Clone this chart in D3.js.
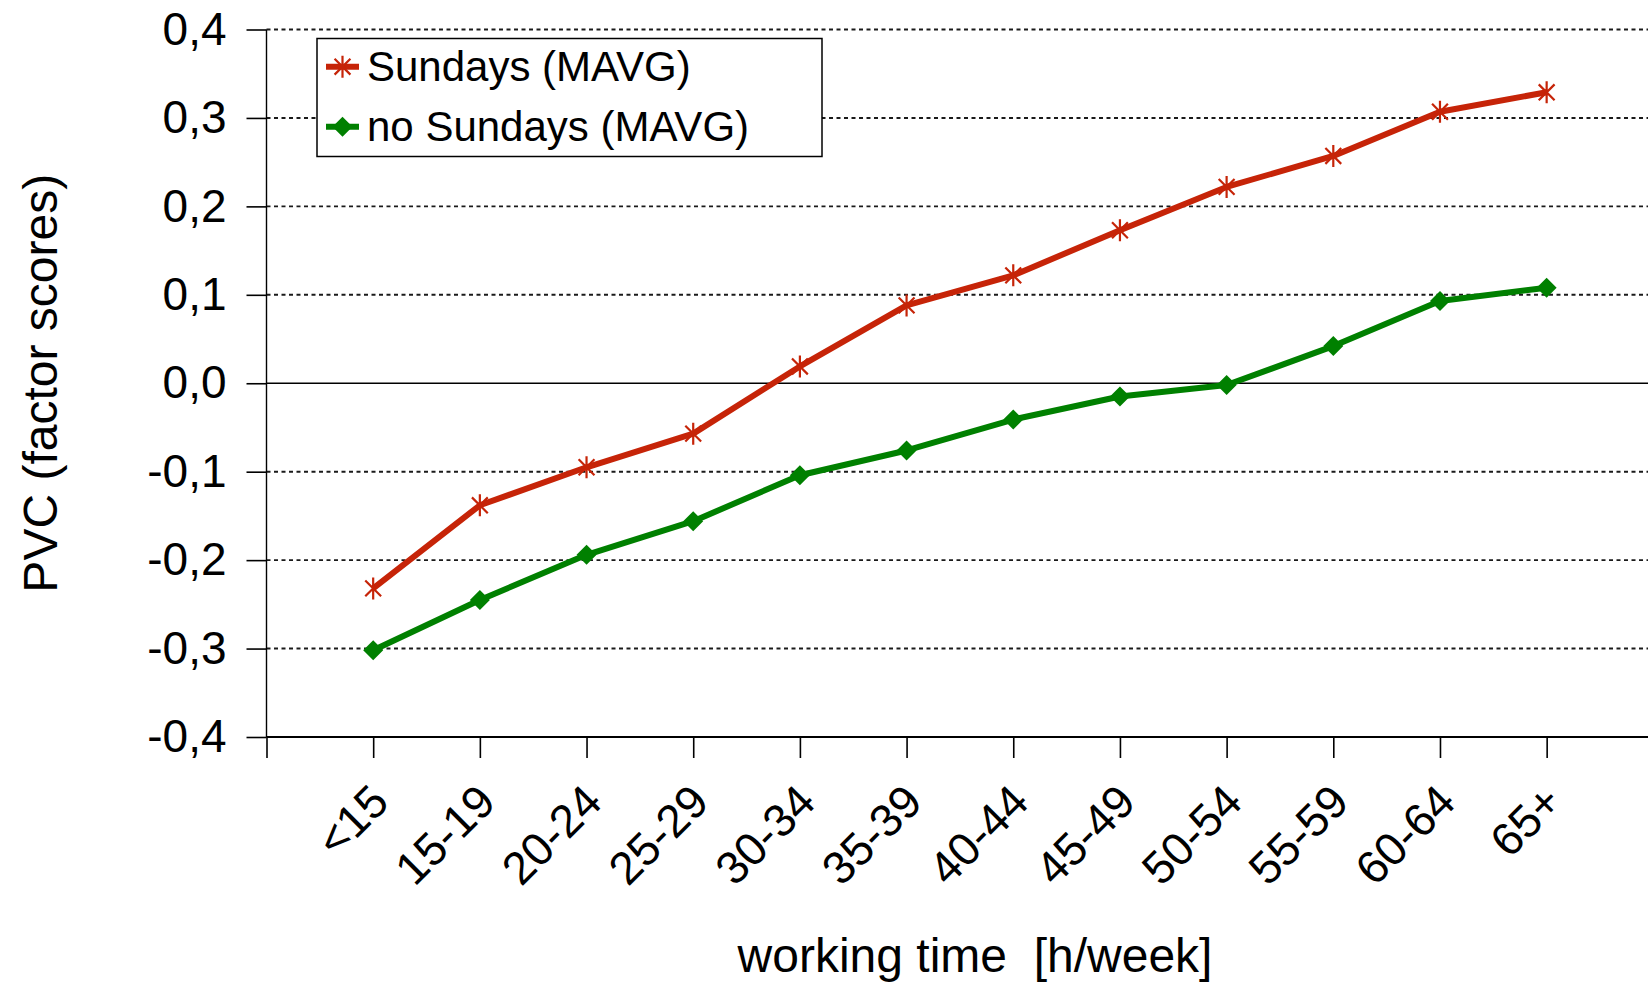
<!DOCTYPE html>
<html>
<head>
<meta charset="utf-8">
<script src="https://cdn.jsdelivr.net/npm/d3@7"></script>
<style>
  html, body { margin: 0; padding: 0; background: #fff; }
  svg { display: block; font-family: "Liberation Sans", Arial, sans-serif; }
</style>
</head>
<body>
<svg id="chart" width="1648" height="982"></svg>
<script>
const categories = ["<15","15-19","20-24","25-29","30-34","35-39","40-44","45-49","50-54","55-59","60-64","65+"];
const sundays    = [-0.232, -0.138, -0.095, -0.057, 0.019, 0.088, 0.122, 0.173, 0.222, 0.257, 0.307, 0.329];
const noSundays  = [-0.302, -0.245, -0.194, -0.156, -0.104, -0.076, -0.041, -0.015, -0.002, 0.042, 0.093, 0.108];
const yTicks     = [-0.4, -0.3, -0.2, -0.1, 0.0, 0.1, 0.2, 0.3, 0.4];
const yTickLabels = ["-0,4","-0,3","-0,2","-0,1","0,0","0,1","0,2","0,3","0,4"];
const seriesNames = ["Sundays (MAVG)", "no Sundays (MAVG)"];
const colors = ["#c62408", "#008000"];

(function () {
const pLeft = 266.5, pRight = 1648, pTop = 29.5, pBottom = 737;

const svg = d3.select("#chart");

// index-based x scale: -1 is the y-axis position
const x = d3.scaleLinear().domain([-1, 11.95]).range([pLeft, pRight]);
const y = d3.scaleLinear().domain([-0.4, 0.4]).range([pBottom, pTop]);

// gridlines (dotted), zero line solid
const grid = svg.append("g");
grid.selectAll("line")
  .data(yTicks.filter(v => v > -0.4))
  .join("line")
  .attr("x1", pLeft).attr("x2", pRight)
  .attr("y1", d => y(d)).attr("y2", d => y(d))
  .attr("stroke", d => d === 0 ? "#000" : "#1a1a1a")
  .attr("stroke-width", d => d === 0 ? 1.7 : 1.9)
  .attr("stroke-dasharray", d => d === 0 ? null : "4,3.5");

// y axis
const yAxis = d3.axisLeft(y)
  .tickValues(yTicks)
  .tickFormat((d, i) => yTickLabels[i])
  .tickSize(20)
  .tickPadding(20);
const gy = svg.append("g").attr("transform", `translate(${pLeft},0)`).call(yAxis);
gy.select(".domain").attr("stroke", "#000").attr("stroke-width", 1.4)
  .attr("d", `M0,${pTop}V${pBottom}`);
gy.selectAll(".tick line").attr("stroke", "#000").attr("stroke-width", 1.6);
gy.selectAll(".tick text")
  .attr("font-size", 46).attr("fill", "#000")
  .attr("font-family", "Liberation Sans, Arial, sans-serif");

// x axis
const xTickVals = d3.range(-1, categories.length);
const xAxis = d3.axisBottom(x)
  .tickValues(xTickVals)
  .tickFormat(d => d < 0 ? "" : categories[d])
  .tickSize(21)
  .tickSizeOuter(0);
const gx = svg.append("g").attr("transform", `translate(0,${pBottom})`).call(xAxis);
gx.select(".domain").attr("stroke", "#000").attr("stroke-width", 1.8)
  .attr("d", `M${pLeft},0H${pRight}`);
gx.selectAll(".tick line").attr("stroke", "#000").attr("stroke-width", 1.6);
gx.selectAll(".tick text")
  .attr("font-size", 46).attr("fill", "#000")
  .attr("font-family", "Liberation Sans, Arial, sans-serif")
  .attr("text-anchor", "end")
  .attr("x", 0).attr("y", 0).attr("dy", "0.72em")
  .attr("transform", "translate(-6,44) rotate(-45)");

// lines
const line = d3.line().x((d, i) => x(i)).y(d => y(d));
const allSeries = [sundays, noSundays];

const starPath = s => {
  const k = s * 0.72;
  return `M0,${-s}L0,${s}M${-k},${-k}L${k},${k}M${-k},${k}L${k},${-k}`;
};
const diamondPath = (w, h) => `M0,${-h}L${w},0L0,${h}L${-w},0Z`;

allSeries.forEach((vals, si) => {
  svg.append("path")
    .datum(vals)
    .attr("fill", "none")
    .attr("stroke", colors[si])
    .attr("stroke-width", 6)
    .attr("stroke-linejoin", "round")
    .attr("d", line);
  const g = svg.append("g");
  if (si === 0) {
    g.selectAll("path").data(vals).join("path")
      .attr("transform", (d, i) => `translate(${x(i)},${y(d)})`)
      .attr("d", starPath(11))
      .attr("stroke", colors[si]).attr("stroke-width", 2.2).attr("fill", "none");
  } else {
    g.selectAll("path").data(vals).join("path")
      .attr("transform", (d, i) => `translate(${x(i)},${y(d)})`)
      .attr("d", diamondPath(10, 10))
      .attr("fill", colors[si]);
  }
});

// legend
const lg = svg.append("g");
lg.append("rect")
  .attr("x", 317).attr("y", 38.5).attr("width", 505).attr("height", 118)
  .attr("fill", "#fff").attr("stroke", "#000").attr("stroke-width", 1.5);
const legendY = [66.7, 126.7];
seriesNames.forEach((name, si) => {
  const cy = legendY[si];
  lg.append("line").attr("x1", 326).attr("x2", 359).attr("y1", cy).attr("y2", cy)
    .attr("stroke", colors[si]).attr("stroke-width", 6);
  if (si === 0) {
    lg.append("path").attr("transform", `translate(342.5,${cy})`)
      .attr("d", starPath(11)).attr("stroke", colors[si]).attr("stroke-width", 2.2).attr("fill", "none");
  } else {
    lg.append("path").attr("transform", `translate(342.5,${cy})`)
      .attr("d", diamondPath(10, 10)).attr("fill", colors[si]);
  }
  lg.append("text").attr("x", 367).attr("y", cy).attr("dy", "0.35em")
    .attr("font-size", 42).attr("fill", "#000").text(name);
});

// axis titles
svg.append("text")
  .attr("transform", `translate(57,${(pTop + pBottom) / 2}) rotate(-90)`)
  .attr("text-anchor", "middle")
  .attr("font-size", 48).attr("fill", "#000")
  .text("PVC (factor scores)");

svg.append("text")
  .attr("x", 975).attr("y", 972)
  .attr("text-anchor", "middle")
  .attr("font-size", 48).attr("fill", "#000")
  .style("white-space", "pre")
  .text("working time  [h/week]");
})();
</script>
</body>
</html>
